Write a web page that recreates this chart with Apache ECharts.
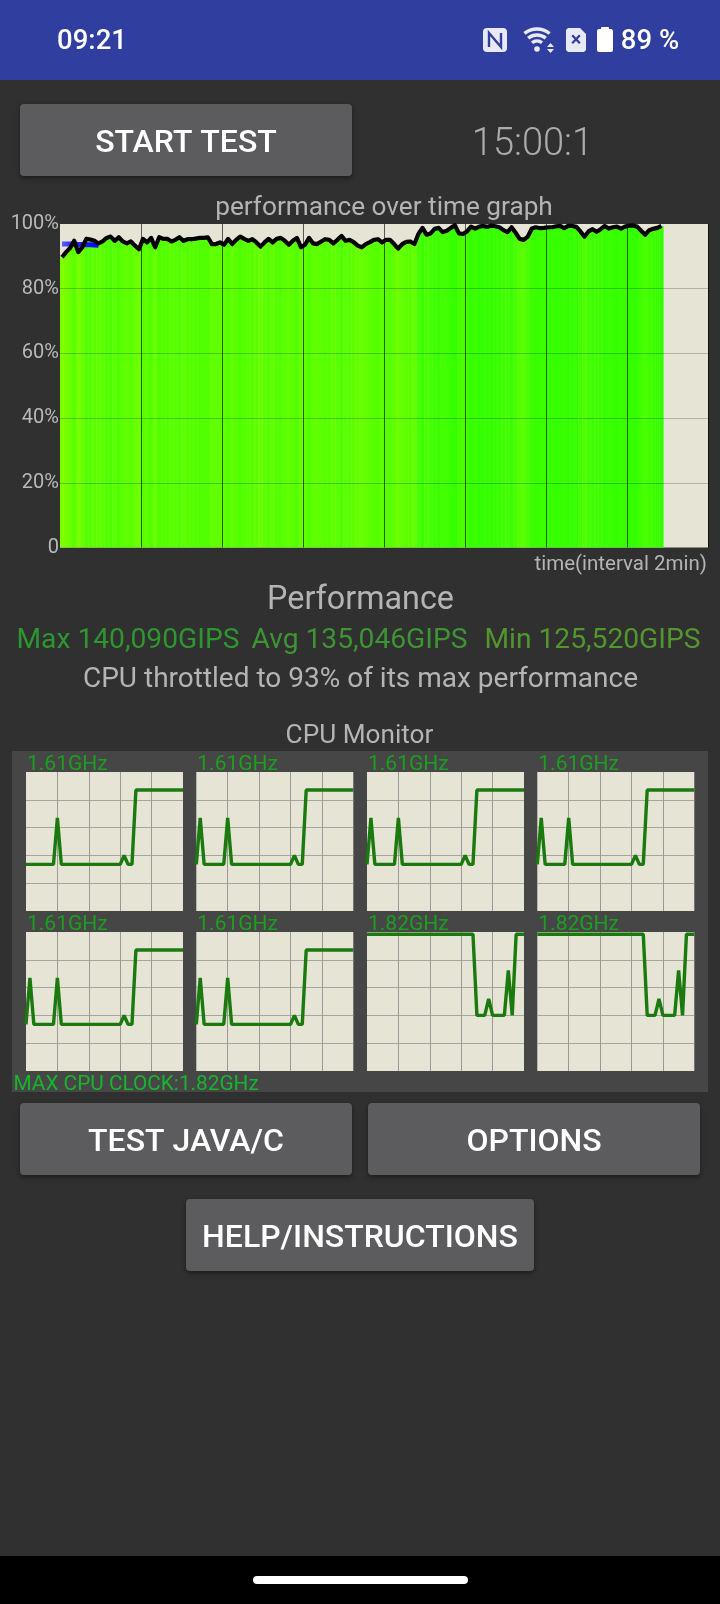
<!DOCTYPE html>
<html><head><meta charset="utf-8">
<style>html,body{margin:0;padding:0;background:#303030}#c{position:absolute;left:0;top:0;width:720px;height:1604px}#p{position:absolute;left:12px;top:751px;width:696px;height:341px;background:#464646}</style>
<script src="https://cdn.jsdelivr.net/npm/echarts@6/dist/echarts.min.js"></script>
</head><body><div id="p"></div><div id="c"></div>
<script>
const perfValues = [
89.7,91.3,92.6,94.8,91.3,92.8,95.4,95.2,94.8,94.0,94.6,95.7,96.1,94.8,95.9,94.6,94.0,94.6,93.3,92.2,
95.4,94.3,95.7,92.8,95.9,95.4,95.4,94.6,95.1,95.9,94.8,95.3,95.3,95.5,95.7,95.7,95.9,93.8,93.8,94.3,93.6,95.4,93.8,95.1,96.1,95.4,94.8,95.3,94.3,93.0,94.3,95.4,
94.3,95.4,95.7,94.8,93.6,94.8,95.7,92.8,93.6,95.7,94.0,93.8,94.6,95.3,95.1,94.0,95.1,96.3,94.8,95.1,94.4,93.3,92.8,93.8,94.4,95.1,95.3,94.3,95.1,95.1,93.8,92.4,93.8,94.5,94.6,93.8,96.9,98.8,96.7,97.1,98.5,98.8,97.5,97.9,98.8,99.6,97.1,96.9,97.7,99.2,
98.6,99.2,99.4,99.1,99.5,99.3,99.0,98.1,97.5,99.0,97.3,95.4,95.1,96.1,98.6,99.0,98.7,98.8,99.0,99.0,99.3,99.4,98.7,99.4,99.4,99.1,97.7,96.1,97.7,98.4,97.6,98.4,99.4,98.6,99.0,99.2,98.6,99.2,99.5,99.5,99.2,97.9,96.7,98.1,98.5,98.8,99.4];
const throttleValues = [93.8,93.8,93.8,93.8,93.7,93.7,93.6,93.6,93.5,93.4];
const sampleSlots = 160;
const sampleLabels = Array.from({length: sampleSlots}, (_, i) => String(i));
const percentTicks = {0:'0',20:'20%',40:'40%',60:'60%',80:'80%',100:'100%'};

const clockSamples = Array.from({length: 41}, (_, i) => String(i));
const clockA = [.62,.62,.62,.62,.62,.62,.62,.62,1.24,.62,.62,.62,.62,.62,.62,.62,.62,.62,.62,.62,.62,.62,.62,.62,.62,.74,.62,.62,1.61,1.61,1.61,1.61,1.61,1.61,1.61,1.61,1.61,1.61,1.61,1.61,1.61];
const clockB = [.62,1.24,.62,.62,.62,.62,.62,.62,1.24,.62,.62,.62,.62,.62,.62,.62,.62,.62,.62,.62,.62,.62,.62,.62,.62,.74,.62,.62,1.61,1.61,1.61,1.61,1.61,1.61,1.61,1.61,1.61,1.61,1.61,1.61,1.61];
const clockC = [1.82,1.82,1.82,1.82,1.82,1.82,1.82,1.82,1.82,1.82,1.82,1.82,1.82,1.82,1.82,1.82,1.82,1.82,1.82,1.82,1.82,1.82,1.82,1.82,1.82,1.82,1.82,1.82,.74,.74,.74,.96,.74,.74,.74,.74,1.34,.74,1.82,1.82,1.82];
const coreClocks = [clockA,clockB,clockB,clockB,clockB,clockB,clockC,clockC];
const coreLabels = ['1.61GHz','1.61GHz','1.61GHz','1.61GHz','1.61GHz','1.61GHz','1.82GHz','1.82GHz'];

const beige = '#E6E5D5';
const grids = [{left:60, top:224, width:648, height:323.5, show:true, backgroundColor:beige, borderWidth:0}];
const xAxes = [{gridIndex:0, type:'category', data:sampleLabels, z:4, boundaryGap:true,
  axisLine:{show:false}, axisTick:{show:false}, axisLabel:{show:false},
  splitLine:{show:true, interval:i => i>0 && i%20===0, lineStyle:{color:'rgba(0,0,0,0.62)', width:1}}}];
const yAxes = [{gridIndex:0, type:'value', min:0, max:100, interval:20, z:4,
  axisLine:{show:false}, axisTick:{show:false},
  axisLabel:{margin:1, color:'#b8b8b8', fontFamily:'Roboto', fontSize:20, padding:[2,0,0,0], formatter:v => percentTicks[v]},
  splitLine:{show:true, showMinLine:false, showMaxLine:false, lineStyle:{color:'rgba(0,0,0,0.22)', width:1}}}];
const series = [
 {type:'bar', xAxisIndex:0, yAxisIndex:0, data:perfValues, barWidth:4.4, silent:true, z:2},
 {type:'line', xAxisIndex:0, yAxisIndex:0, data:throttleValues, showSymbol:false, silent:true, z:8,
  lineStyle:{width:5, cap:'butt', color:{type:'linear',x:0,y:0,x2:1,y2:0,colorStops:[{offset:0,color:'#6a6aff'},{offset:.3,color:'#2a2aff'},{offset:1,color:'#0000ff'}]}}},
 {type:'line', xAxisIndex:0, yAxisIndex:0, data:perfValues, showSymbol:false, silent:true, z:9,
  lineStyle:{width:4.2, color:'#000', join:'round'}, clip:true}
];
const colX = [26,196.3,367,537.3], rowY = [772,932];
const texts = [];
coreClocks.forEach((vals, k) => {
  const c = k%4, r = k<4?0:1, g = k+1;
  grids.push({left:colX[c], top:rowY[r], width:157, height:139, show:true, backgroundColor:beige, borderWidth:0});
  xAxes.push({gridIndex:g, type:'category', data:clockSamples, boundaryGap:false,
    axisLine:{show:false}, axisTick:{show:false}, axisLabel:{show:false},
    splitLine:{show:true, interval:i => i>0 && i<40 && i%8===0, lineStyle:{color:'#9a9a94', width:1}}});
  yAxes.push({gridIndex:g, type:'value', min:0, max:1.85, interval:.37,
    axisLine:{show:false}, axisTick:{show:false}, axisLabel:{show:false},
    splitLine:{show:true, showMinLine:false, showMaxLine:false, lineStyle:{color:'#a6a6a0', width:1}}});
  series.push({type:'line', xAxisIndex:g, yAxisIndex:g, data:vals, showSymbol:false, silent:true, z:5,
    lineStyle:{width:3.4, color:'#1A7A0E', join:'bevel', cap:'butt'}});
  texts.push(label(coreLabels[k], colX[c]+1, rowY[r]-7.5, 21, '#1AA01E', 'left'));
});

function label(t, x, y, size, color, align, weight){
  return {type:'text', x, y, silent:true, z:20, style:{text:t, fontFamily:'Roboto', fontSize:size, fontWeight:weight||400,
    fill:color, align:align||'center', verticalAlign:'middle'}};
}
function rect(x,y,w,h,fill,r,extra){
  return Object.assign({type:'rect', silent:true, shape:{x,y,width:w,height:h,r:r||0}, style:Object.assign({fill}, extra||{})});
}
function button(x,y,w,h,t,size){
  return [Object.assign(rect(x,y,w,h,'#5C5C5E',4,{shadowBlur:5,shadowColor:'rgba(0,0,0,.45)',shadowOffsetY:2}),{z:1}),
          label(t,x+w/2,y+h/2+4,size,'#FFFFFF','center',500)];
}
const white='#FFFFFF', chip='#E9E9F5', bar='#303F9F';
const graphics = [
  Object.assign(rect(0,0,720,80,bar),{z:0}),
  Object.assign(rect(0,1556,720,48,'#000'),{z:0}),
  Object.assign(rect(253,1576,215,8,'#fff',4),{z:1}),
  label('09:21',92,42.5,27.5,white,'center',500),
  label('89 %',650,42.5,27.5,white,'center',500),
  // NFC
  Object.assign(rect(483,28,24,24,chip,4),{z:1}),
  {type:'polyline',silent:true,z:2,shape:{points:[[489,47],[489,33],[501,47],[501,33]]},style:{stroke:bar,fill:null,lineWidth:2.4}},
  // wifi
  {type:'arc',silent:true,z:2,shape:{cx:537,cy:49,r:20,startAngle:-2.25,endAngle:-.89},style:{stroke:chip,fill:null,lineWidth:3.4}},
  {type:'arc',silent:true,z:2,shape:{cx:537,cy:49,r:14,startAngle:-2.25,endAngle:-.89},style:{stroke:chip,fill:null,lineWidth:3.4}},
  {type:'arc',silent:true,z:2,shape:{cx:537,cy:49,r:8,startAngle:-2.25,endAngle:-.89},style:{stroke:chip,fill:null,lineWidth:3.4}},
  {type:'circle',silent:true,z:2,shape:{cx:537,cy:49,r:2.8},style:{fill:chip}},
  {type:'polygon',silent:true,z:2,shape:{points:[[547,47],[554,47],[550.5,43]]},style:{fill:chip}},
  {type:'polygon',silent:true,z:2,shape:{points:[[547,49],[554,49],[550.5,53]]},style:{fill:chip}},
  // SIM
  {type:'polygon',silent:true,z:2,shape:{points:[[568,28],[580,28],[586,34],[586,50],[584,52],[568,52],[566,50],[566,30]]},style:{fill:chip}},
  label('×',576,41,20,bar,'center',700),
  // battery
  Object.assign(rect(601,27,8,3,white,1),{z:2}),
  Object.assign(rect(597,29,16,23,white,2),{z:2}),
  ...button(20,104,332,72,'START TEST',32),
  label('15:00:1',532.5,145,38,'#ACACAC','center',300),
  label('performance over time graph',384,208.5,26.2,'#B4B4B4'),
  label('time(interval 2min)',707,565,20.5,'#B4B4B4','right'),
  label('Performance',360.5,601,32.3,'#B4B4B4'),
  label('Max 140,090GIPS',16.5,641,28.2,'#2E962E','left'),
  label('Avg 135,046GIPS',251.5,641,28.2,'#3D9433','left'),
  label('Min 125,520GIPS',484.5,641,28.2,'#52962E','left'),
  label('CPU throttled to 93% of its max performance',360.5,680,28,'#B4B4B4'),
  label('CPU Monitor',359.5,736,26.2,'#B4B4B4'),
  label('MAX CPU CLOCK:1.82GHz',13.5,1084.5,20.8,'#17B52C','left'),
  ...texts,
  ...button(20,1103,332,72,'TEST JAVA/C',32),
  ...button(368,1103,332,72,'OPTIONS',32),
  ...button(186,1199,348,72,'HELP/INSTRUCTIONS',32)
];
const chart = echarts.init(document.getElementById('c'), null, {renderer:'canvas', width:720, height:1604});
chart.setOption({
  backgroundColor:'transparent', animation:false, tooltip:{show:false},
  grid:grids, xAxis:xAxes, yAxis:yAxes, series,
  visualMap:{show:false, type:'continuous', seriesIndex:0, dimension:1, min:90, max:100, inRange:{color:['#80FF00','#30FF00']}},
  graphic:{elements:graphics}
});
</script></body></html>
